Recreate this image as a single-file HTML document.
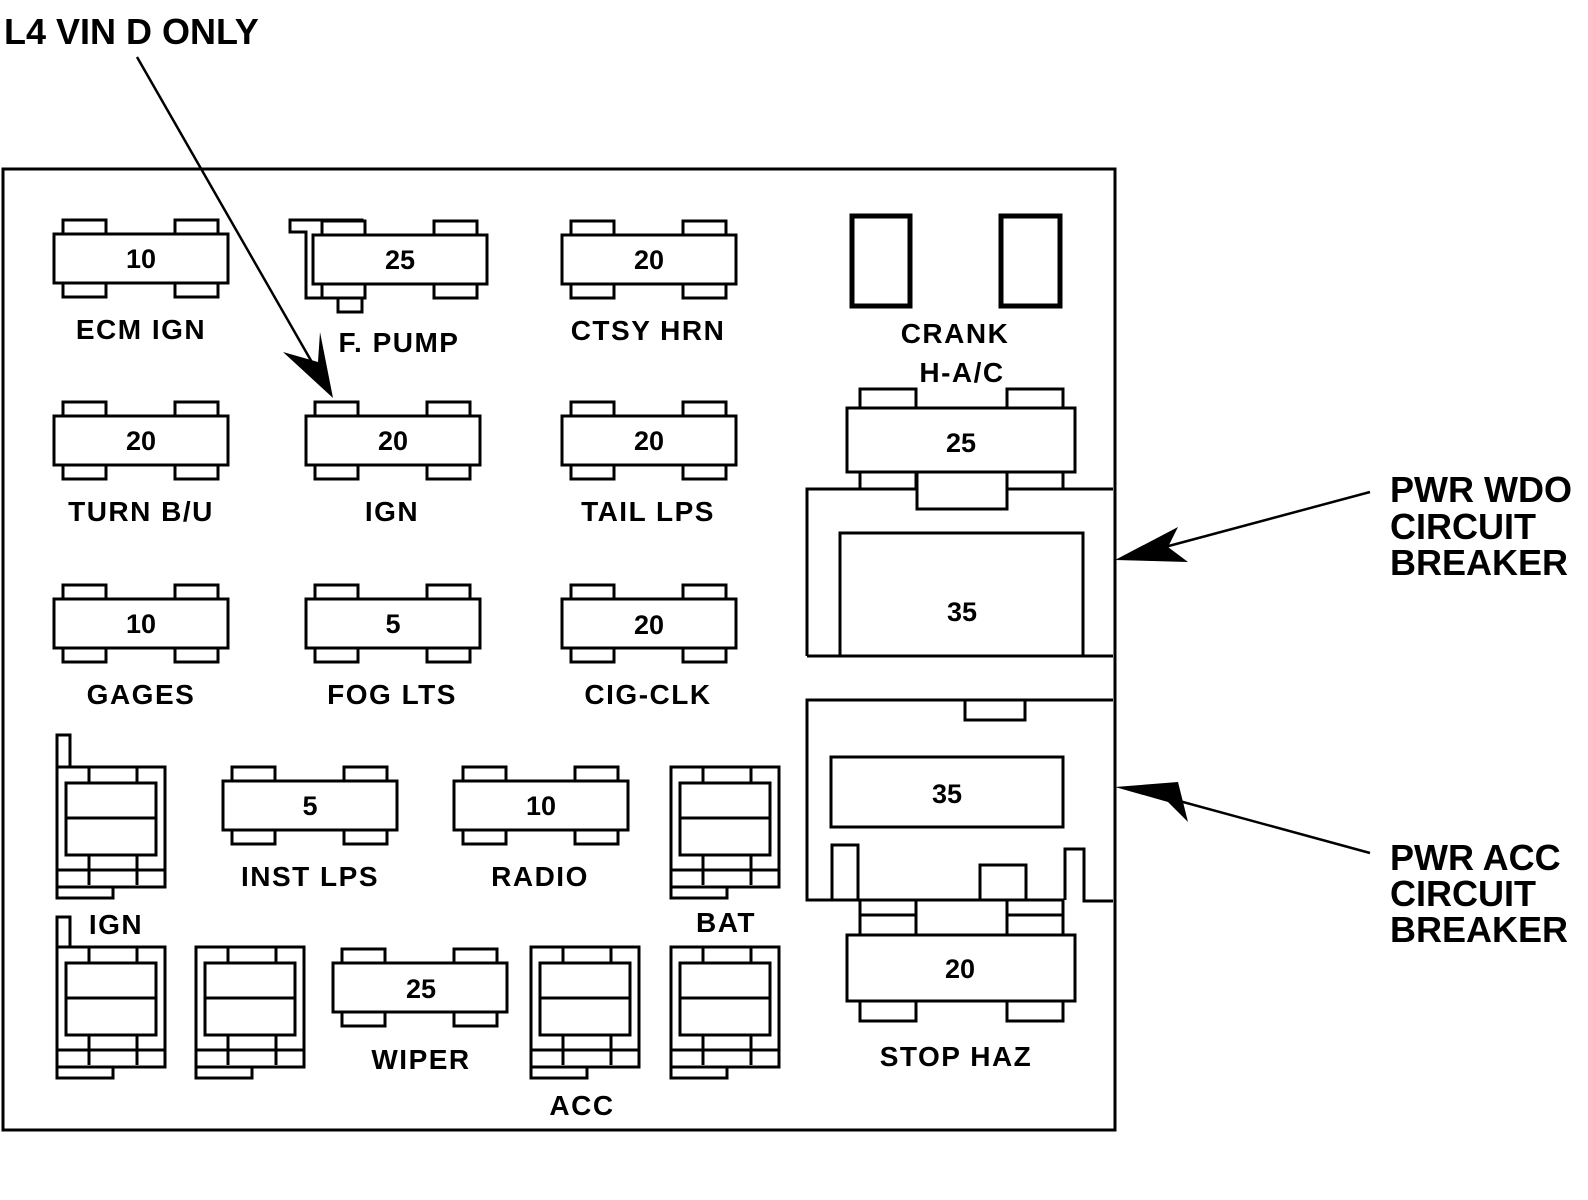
<!DOCTYPE html>
<html><head><meta charset="utf-8"><style>
html,body{margin:0;padding:0;background:#fff;}
svg{display:block;}
text{font-family:"Liberation Sans",sans-serif;font-weight:bold;fill:#000;}
.lb{letter-spacing:1.5px;}
</style></head><body>
<svg width="1588" height="1200" viewBox="0 0 1588 1200" xmlns="http://www.w3.org/2000/svg">
<defs>
<g id="fuse" fill="#fff" stroke="#000" stroke-width="3">
<rect x="9" y="-14" width="43" height="14"/><rect x="121" y="-14" width="43" height="14"/>
<rect x="9" y="49" width="43" height="14"/><rect x="121" y="49" width="43" height="14"/>
<rect x="0" y="0" width="174" height="49"/>
</g>
<g id="relay" fill="none" stroke="#000" stroke-width="3">
<rect x="0" y="120" width="56" height="11" fill="#fff"/>
<rect x="0" y="0" width="108" height="120" fill="#fff"/>
<rect x="9" y="16" width="90" height="72"/>
<line x1="9" y1="51" x2="99" y2="51"/>
<line x1="32" y1="0" x2="32" y2="16"/><line x1="80" y1="0" x2="80" y2="16"/>
<line x1="32" y1="88" x2="32" y2="118"/><line x1="80" y1="88" x2="80" y2="118"/>
<line x1="0" y1="103" x2="108" y2="103"/>
</g>
</defs>
<rect x="3" y="169" width="1112" height="961" fill="none" stroke="#000" stroke-width="3"/>

<path d="M290,220 H362 V312 H338 V298 H306 V232 H290 Z" fill="none" stroke="#000" stroke-width="3"/>
<rect x="338" y="286" width="24" height="26" fill="none" stroke="#000" stroke-width="3"/>

<use href="#fuse" x="54" y="234"/>
<use href="#fuse" x="313" y="235"/>
<use href="#fuse" x="562" y="235"/>
<use href="#fuse" x="54" y="416"/>
<use href="#fuse" x="306" y="416"/>
<use href="#fuse" x="562" y="416"/>
<use href="#fuse" x="54" y="599"/>
<use href="#fuse" x="306" y="599"/>
<use href="#fuse" x="562" y="599"/>
<use href="#fuse" x="223" y="781"/>
<use href="#fuse" x="454" y="781"/>
<use href="#fuse" x="333" y="963"/>

<rect x="57" y="735" width="13" height="32" fill="#fff" stroke="#000" stroke-width="3"/>
<use href="#relay" x="57" y="767"/>
<rect x="57" y="917" width="13" height="30" fill="#fff" stroke="#000" stroke-width="3"/>
<use href="#relay" x="57" y="947"/>
<use href="#relay" x="196" y="947"/>
<use href="#relay" x="531" y="947"/>
<use href="#relay" x="671" y="767"/>
<use href="#relay" x="671" y="947"/>

<rect x="852" y="216" width="58" height="90" fill="none" stroke="#000" stroke-width="5"/>
<rect x="1001" y="216" width="59" height="90" fill="none" stroke="#000" stroke-width="5"/>

<g fill="#fff" stroke="#000" stroke-width="3">
<rect x="860" y="389" width="56" height="19"/><rect x="1007" y="389" width="56" height="19"/>
<path d="M807,656 V489 H860 V472 H1063 V489 H1113"/>
<rect x="860" y="472" width="56" height="17"/><rect x="1007" y="472" width="56" height="17"/>
<rect x="917" y="472" width="90" height="37"/>
<rect x="847" y="408" width="228" height="64"/>
<path d="M840,656 V533 H1083 V656"/>
<line x1="807" y1="656" x2="1113" y2="656"/>
<path d="M1113,700 H807 V900 H1040"/>
<rect x="965" y="700" width="60" height="20"/>
<rect x="831" y="757" width="232" height="70"/>
<rect x="832" y="845" width="26" height="55"/>
<rect x="980" y="865" width="46" height="35"/>
<path d="M1065,900 V849 H1084 V901 H1113"/>
<rect x="860" y="900" width="56" height="35"/><rect x="1007" y="900" width="56" height="35"/>
<line x1="860" y1="915" x2="916" y2="915"/><line x1="1007" y1="915" x2="1063" y2="915"/>
<rect x="860" y="1001" width="56" height="20"/><rect x="1007" y="1001" width="56" height="20"/>
<rect x="847" y="935" width="228" height="66"/>
</g>

<g stroke="#000" stroke-width="2.5">
<line x1="137" y1="57" x2="325" y2="385"/>
<line x1="1370" y1="492" x2="1150" y2="551"/>
<line x1="1370" y1="853" x2="1150" y2="793"/>
</g>
<polygon points="333,398 283,352 318,362 320,332" fill="#000"/>
<polygon points="1115,560 1178,527 1168,547 1188,562" fill="#000"/>
<polygon points="1115,787 1178,782 1188,822 1168,802" fill="#000"/>

<g font-size="27" text-anchor="middle">
<text x="141" y="268">10</text>
<text x="400" y="269">25</text>
<text x="649" y="269">20</text>
<text x="141" y="450">20</text>
<text x="393" y="450">20</text>
<text x="649" y="450">20</text>
<text x="141" y="633">10</text>
<text x="393" y="633">5</text>
<text x="649" y="634">20</text>
<text x="310" y="815">5</text>
<text x="541" y="815">10</text>
<text x="421" y="998">25</text>
<text x="961" y="452">25</text>
<text x="962" y="621">35</text>
<text x="947" y="803">35</text>
<text x="960" y="978">20</text>
</g>
<g font-size="28" text-anchor="middle" class="lb">
<text x="141" y="339">ECM  IGN</text>
<text x="399" y="352">F.  PUMP</text>
<text x="648" y="340">CTSY  HRN</text>
<text x="141" y="521">TURN  B/U</text>
<text x="392" y="521">IGN</text>
<text x="648" y="521">TAIL  LPS</text>
<text x="141" y="704">GAGES</text>
<text x="392" y="704">FOG  LTS</text>
<text x="648" y="704">CIG-CLK</text>
<text x="310" y="886">INST  LPS</text>
<text x="540" y="886">RADIO</text>
<text x="116" y="934">IGN</text>
<text x="726" y="932">BAT</text>
<text x="421" y="1069">WIPER</text>
<text x="582" y="1115">ACC</text>
<text x="955" y="343">CRANK</text>
<text x="962" y="382">H-A/C</text>
<text x="956" y="1066">STOP  HAZ</text>
</g>
<g font-size="36">
<text x="4" y="44">L4  VIN  D  ONLY</text>
<text x="1390" y="502">PWR  WDO</text>
<text x="1390" y="539">CIRCUIT</text>
<text x="1390" y="575">BREAKER</text>
<text x="1390" y="870">PWR  ACC</text>
<text x="1390" y="906">CIRCUIT</text>
<text x="1390" y="942">BREAKER</text>
</g>
</svg>
</body></html>
